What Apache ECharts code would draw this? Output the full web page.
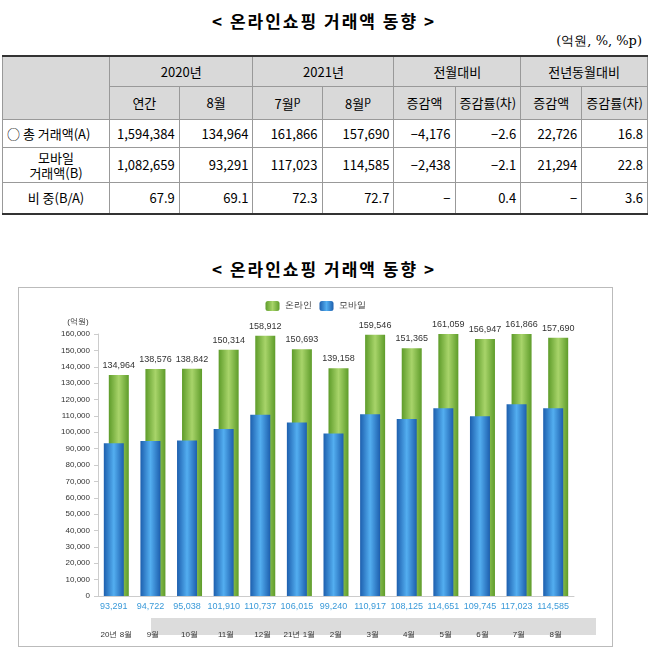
<!DOCTYPE html>
<html><head><meta charset="utf-8">
<script src="https://cdn.jsdelivr.net/npm/echarts@6/dist/echarts.min.js"></script>
<style>
body{margin:0;width:648px;height:657px;background:#fff;font-family:"Noto Sans CJK KR","Noto Sans",sans-serif;position:relative;overflow:hidden}
.t{position:absolute;left:0;width:648px;text-align:center;font-size:17px;font-weight:bold;letter-spacing:2px}
table{position:absolute;left:2px;top:55px;border-collapse:collapse;font-size:13px;table-layout:fixed}
td{border:1px solid #999;text-align:right;padding:0 4px;white-space:nowrap}
tr.h td{background:#d9d9d9;text-align:center}
table{border-top:2px solid #333;border-bottom:2px solid #333}
#c{position:absolute;left:18px;top:287px;width:595px;height:360px;border:1px solid #bbb;box-sizing:border-box}
</style></head><body>
<div class="t" style="top:8px">&lt; 온라인쇼핑 거래액 동향 &gt;</div>
<div style="position:absolute;right:6px;top:32px;font-size:13px;font-family:'DejaVu Serif',serif">(억원, %, %p)</div>
<table id="tb"></table>
<div class="t" style="top:256px">&lt; 온라인쇼핑 거래액 동향 &gt;</div>
<div id="c"></div>
<script>
const months=['20년 8월','9월','10월','11월','12월','21년 1월','2월','3월','4월','5월','6월','7월','8월'];
const online=[134964,138576,138842,150314,158912,150693,139158,159546,151365,161059,156947,161866,157690];
const mobile=[93291,94722,95038,101910,110737,106015,99240,110917,108125,114651,109745,117023,114585];
const rowLabels=['○ 총 거래액(A)','모바일<br>거래액(B)','비 중(B/A)'];
const rows=[['1,594,384','134,964','161,866','157,690','−4,176','−2.6','22,726','16.8'],
['1,082,659','93,291','117,023','114,585','−2,438','−2.1','21,294','22.8'],
['67.9','69.1','72.3','72.7','−','0.4','−','3.6']];
const widths=[108,70,75,70,73,62,63,62,60];
let h='<colgroup>'+widths.map(w=>'<col style="width:'+w+'px">').join('')+'</colgroup>';
h+='<tr class="h" style="height:30px"><td rowspan="2"></td><td colspan="2">2020년</td><td colspan="2">2021년</td><td colspan="2">전월대비</td><td colspan="2">전년동월대비</td></tr>';
h+='<tr class="h" style="height:33px"><td>연간</td><td>8월</td><td>7월<sup>p</sup></td><td>8월<sup>p</sup></td><td>증감액</td><td>증감률(차)</td><td>증감액</td><td>증감률(차)</td></tr>';
rows.forEach((r,i)=>{h+='<tr style="height:'+[28,35,32][i]+'px"><td style="text-align:'+(i==0?'left':'center')+';line-height:15px">'+rowLabels[i]+'</td>'+r.map(v=>'<td>'+v+'</td>').join('')+'</tr>';});
document.getElementById('tb').innerHTML=h;
const ch=echarts.init(document.getElementById('c'));
const g=(a,b)=>new echarts.graphic.LinearGradient(0,0,1,0,[{offset:0,color:a},{offset:0.5,color:b},{offset:1,color:a}]);
ch.setOption({
 graphic:[{type:'rect',left:150-18,top:330,shape:{width:445,height:17},style:{fill:'#dcdcdc'},z:-1}],
 legend:{top:8,left:'center',itemWidth:14,itemHeight:10,textStyle:{fontSize:9,color:'#333'},data:['온라인','모바일']},
 grid:{left:79,right:38,top:46,bottom:50},
 xAxis:{type:'category',data:months,axisTick:{show:false},axisLine:{lineStyle:{color:'#ccc'}},
   axisLabel:{interval:0,fontSize:8,color:'#333',margin:35}},
 yAxis:{type:'value',min:0,max:160000,interval:10000,name:'(억원)',nameGap:8,nameTextStyle:{fontSize:8,color:'#333',padding:[0,40,0,0]},
   axisLine:{show:true,lineStyle:{color:'#ccc'}},axisTick:{show:true,length:4},splitLine:{show:false},
   axisLabel:{fontSize:8,color:'#333',formatter:v=>v.toLocaleString('en-US')}},
 series:[
  {name:'모바일',type:'bar',data:mobile,barWidth:20,barGap:'-75%',z:3,itemStyle:{color:g('#1d5fae','#53aef0')},
   label:{show:true,position:'bottom',distance:6,fontSize:9,color:'#3a9ad9',formatter:p=>p.value.toLocaleString('en-US')}},
  {name:'온라인',type:'bar',data:online,barWidth:20,z:2,itemStyle:{color:g('#5e9c2a','#a8d46a')},
   label:{show:true,position:'top',fontSize:9,color:'#333',formatter:p=>p.value.toLocaleString('en-US')}}
 ]
});
</script></body></html>
